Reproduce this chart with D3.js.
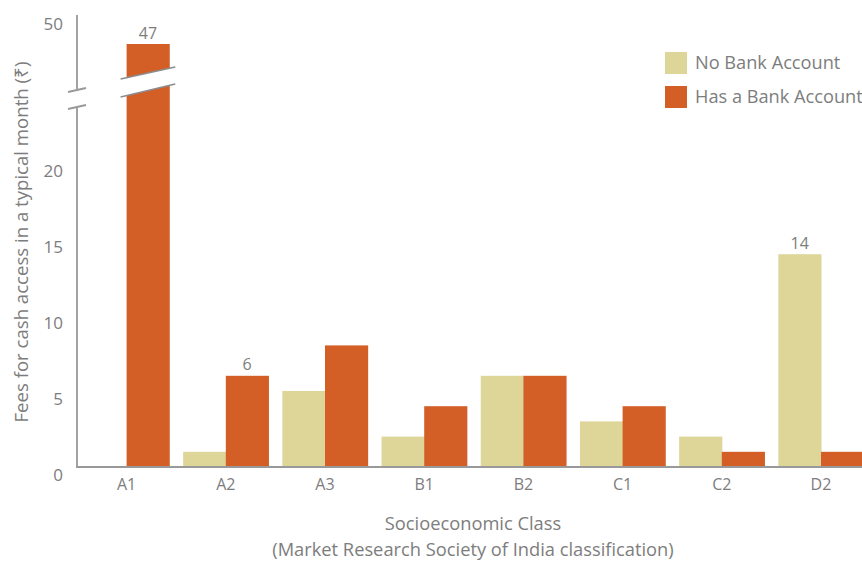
<!DOCTYPE html>
<html><head><meta charset="utf-8">
<script src="https://cdn.jsdelivr.net/npm/d3@7"></script>
<style>body{margin:0;background:#fff}svg{display:block}text{font-family:"Open Sans",sans-serif;fill:#7d7d7d}</style>
</head><body><svg id="c" width="862" height="563"></svg>
<script>
const categories = ["A1","A2","A3","B1","B2","C1","C2","D2"];
const noBank = [0, 1, 5, 2, 6, 3, 2, 14];
const hasBank = [47, 6, 8, 4, 6, 4, 1, 1];
const lowerTicks = [0, 5, 10, 15, 20];
const upperTicks = [50];
const seriesNames = ["No Bank Account", "Has a Bank Account"];
const colors = ["#ded699", "#d35f27"];
const valueLabels = [{cat:"A1", s:1, v:47}, {cat:"A2", s:1, v:6}, {cat:"D2", s:0, v:14}];

const svg = d3.select("#c");
const axisX = 77, zeroY = 467;
const x = d3.scaleBand().domain(categories).range([axisX, axisX + 8*99.2]).paddingInner(0.14).paddingOuter(0.07);
const xs = d3.scaleBand().domain([0,1]).range([0, x.bandwidth()]);
const yLow = d3.scaleLinear().domain([0, 24]).range([zeroY, zeroY - 24*15.2]);
const yUp = d3.scaleLinear().domain([44, 50]).range([72, 16]);
const yVal = v => v > 24 ? yUp(v) : yLow(v);

// bars
const data = [];
categories.forEach((c,i)=>{ data.push({c, s:0, v:noBank[i]}); data.push({c, s:1, v:hasBank[i]}); });
svg.append("g").selectAll("rect").data(data.filter(d=>d.v>0)).join("rect")
  .attr("x", d=>x(d.c)+xs(d.s)).attr("width", xs.bandwidth()+0.5)
  .attr("y", d=>yVal(d.v)).attr("height", d=>zeroY - yVal(d.v))
  .attr("fill", d=>colors[d.s]);

// break across A1 bar
const bx0 = x("A1")+xs(1)-6, bx1 = x("A1")+xs(1)+xs.bandwidth()+6;
svg.append("path").attr("d", `M${bx0},79 L${bx1},67 L${bx1},84 L${bx0},97 Z`).attr("fill","#fff");
svg.append("path").attr("d", `M${bx0},79 L${bx1},67 M${bx0},97 L${bx1},84`).attr("stroke","#8c8c8c").attr("stroke-width",1.6).attr("fill","none");

// y axis segments
const g = svg.append("g").attr("stroke","#999").attr("stroke-width",1.8).attr("fill","none");
g.append("line").attr("x1",axisX).attr("x2",axisX).attr("y1",yUp(50)-1).attr("y2",89);
g.append("line").attr("x1",axisX).attr("x2",axisX).attr("y1",106).attr("y2",zeroY);
g.append("line").attr("x1",68).attr("x2",86).attr("y1",92).attr("y2",88);
g.append("line").attr("x1",68).attr("x2",86).attr("y1",109).attr("y2",105);
// x axis
svg.append("line").attr("x1",axisX-1).attr("x2",862).attr("y1",zeroY).attr("y2",zeroY).attr("stroke","#999").attr("stroke-width",2);

// y tick labels
svg.append("g").selectAll("text").data(lowerTicks).join("text")
  .attr("x",63).attr("y",d=>yLow(d)+8).attr("dy","0.35em").attr("text-anchor","end").attr("font-size",17).text(d=>d);
svg.append("g").selectAll("text").data(upperTicks).join("text")
  .attr("x",63).attr("y",d=>yUp(d)+8).attr("dy","0.35em").attr("text-anchor","end").attr("font-size",17).text(d=>d);

// x tick labels
svg.append("g").selectAll("text").data(categories).join("text")
  .attr("x",d=>x(d)+x.bandwidth()/2).attr("y",zeroY+17).attr("dy","0.35em").attr("text-anchor","middle").attr("font-size",16).text(d=>d);

// value labels
svg.append("g").selectAll("text").data(valueLabels).join("text")
  .attr("x",d=>x(d.cat)+xs(d.s)+xs.bandwidth()/2).attr("y",d=>yVal(d.v)-11).attr("dy","0.35em")
  .attr("text-anchor","middle").attr("font-size",16).text(d=>d.v);

// axis titles
svg.append("text").attr("transform","translate(21,242) rotate(-90)").attr("dy","0.35em").attr("text-anchor","middle").attr("font-size",18.6)
  .text("Fees for cash access in a typical month (₹)");
svg.append("text").attr("x",473).attr("y",524).attr("dy","0.35em").attr("text-anchor","middle").attr("font-size",18.3).text("Socioeconomic Class");
svg.append("text").attr("x",473).attr("y",550).attr("dy","0.35em").attr("text-anchor","middle").attr("font-size",18.3).text("(Market Research Society of India classification)");

// legend
const lg = svg.append("g").selectAll("g").data(seriesNames).join("g").attr("transform",(d,i)=>`translate(665,${52+i*34})`);
lg.append("rect").attr("width",22).attr("height",22).attr("fill",(d,i)=>colors[i]);
lg.append("text").attr("x",30).attr("y",11).attr("dy","0.35em").attr("font-size",18.2).text(d=>d);
</script></body></html>
